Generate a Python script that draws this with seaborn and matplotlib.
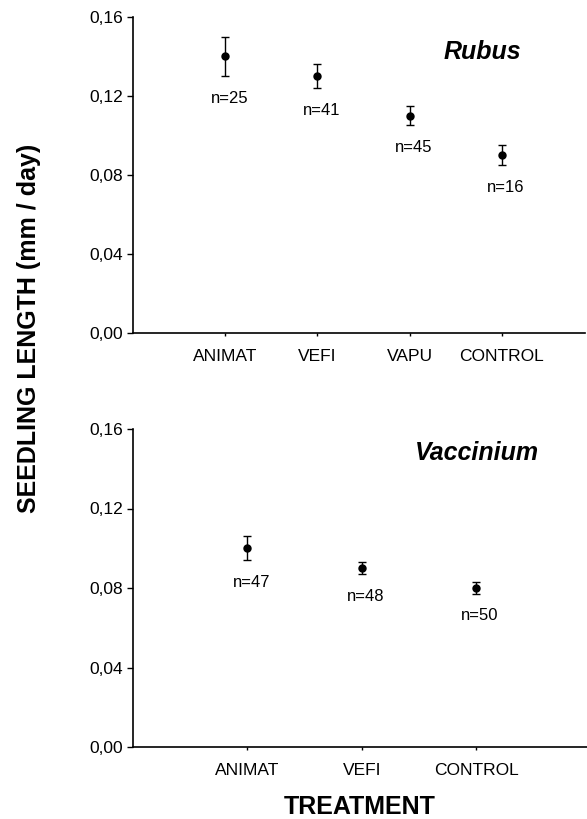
import matplotlib
matplotlib.use("Agg")
import matplotlib.pyplot as plt
from matplotlib.ticker import FuncFormatter
import seaborn as sns
import pandas as pd

# ---- data ----
rubus_cats = ["ANIMAT", "VEFI", "VAPU", "CONTROL"]
rubus_mean = [0.140, 0.130, 0.110, 0.090]
rubus_err = [0.010, 0.006, 0.0047, 0.005]
rubus_n = [25, 41, 45, 16]

vacc_cats = ["ANIMAT", "VEFI", "CONTROL"]
vacc_mean = [0.100, 0.090, 0.080]
vacc_err = [0.006, 0.003, 0.003]
vacc_n = [47, 48, 50]

yticks = [0.00, 0.04, 0.08, 0.12, 0.16]

sns.set_style("ticks", {"text.color": "black", "xtick.color": "black",
                        "ytick.color": "black", "axes.labelcolor": "black",
                        "axes.edgecolor": "black"})
plt.rcParams["font.family"] = ["Liberation Sans", "DejaVu Sans"]

fig = plt.figure(figsize=(5.87, 8.19), dpi=100)
W, H = 587, 819
ax1 = fig.add_axes([133 / W, 1 - 333 / H, (585 - 133) / W, (333 - 17) / H])
ax2 = fig.add_axes([133 / W, 1 - 747 / H, (587 - 133) / W, (747 - 429) / H])

fmt = FuncFormatter(lambda v, p: f"{v:.2f}".replace(".", ","))


def panel(ax, cats, means, errs, ns, title, tx, ty, xlim):
    df = pd.DataFrame({"cat": cats, "mean": means})
    sns.pointplot(data=df, x="cat", y="mean", order=cats, ax=ax,
                  color="black", linestyle="none", marker="o",
                  markersize=4, errorbar=None)
    ax.errorbar(range(len(cats)), means, yerr=errs, fmt="none",
                ecolor="black", elinewidth=1.0, capsize=2.7, capthick=1.0)
    for i, (m, e, n) in enumerate(zip(means, errs, ns)):
        ax.annotate(f"n={n}", (i, m - e), xytext=(4, -22),
                    textcoords="offset pixels", ha="center", va="center",
                    fontsize=12, color="black")
    ax.set_ylim(0, 0.16)
    ax.set_xlim(*xlim)
    ax.set_yticks(yticks)
    ax.yaxis.set_major_formatter(fmt)
    ax.set_xlabel("")
    ax.set_ylabel("")
    ax.text(tx, ty, title, transform=ax.transAxes, ha="center", va="center",
            fontsize=18, fontweight="bold", fontstyle="italic", color="black")
    sns.despine(ax=ax)
    for s in ("left", "bottom"):
        ax.spines[s].set_linewidth(1.2)
        ax.spines[s].set_color("black")
    ax.tick_params(axis="y", direction="out", length=4, width=1.0,
                   labelsize=12.5, pad=3, colors="black")
    ax.tick_params(axis="x", direction="out", length=2.5, width=1.0,
                   labelsize=12.5, pad=9, colors="black")


panel(ax1, rubus_cats, rubus_mean, rubus_err, rubus_n, "Rubus",
      0.772, 0.889, (-1.0, 3.9))
panel(ax2, vacc_cats, vacc_mean, vacc_err, vacc_n, "Vaccinium",
      0.758, 0.925, (-1.0, 2.97))

ax2.set_xlabel("TREATMENT", fontsize=18, fontweight="bold", labelpad=12,
               color="black")
fig.text(29 / W, 1 - 328 / H, "SEEDLING LENGTH (mm / day)", rotation=90,
         ha="center", va="center", fontsize=18, fontweight="bold",
         color="black")

fig.savefig("out.png", dpi=100)
